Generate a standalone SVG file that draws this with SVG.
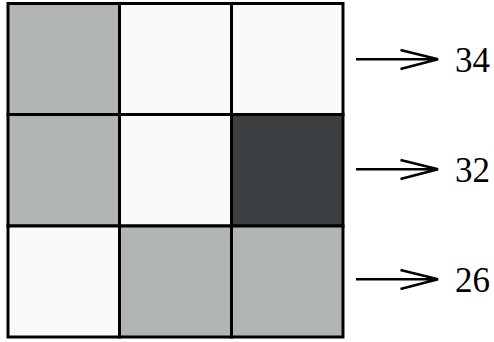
<svg xmlns="http://www.w3.org/2000/svg" width="494" height="342" viewBox="0 0 494 342">
<style>
.c{stroke:#000;stroke-width:3}
.g{fill:#b2b5b6}.w{fill:#fafafa}.d{fill:#3c3f42}
.a{stroke:#000;stroke-width:2.5;fill:none}
.t{font-size:35px;fill:#000}
</style>
<rect width="494" height="342" fill="#fff"/>
<g id="r1c1"><rect class="c g" x="8" y="3.5" width="111.5" height="111"/></g>
<g id="r1c2"><rect class="c w" x="119.5" y="3.5" width="112" height="111"/></g>
<g id="r1c3"><rect class="c w" x="231.5" y="3.5" width="111.5" height="111"/></g>
<g id="r2c1"><rect class="c g" x="8" y="114.5" width="111.5" height="111.5"/></g>
<g id="r2c2"><rect class="c w" x="119.5" y="114.5" width="112" height="111.5"/></g>
<g id="r2c3"><rect class="c d" x="231.5" y="114.5" width="111.5" height="111.5"/></g>
<g id="r3c1"><rect class="c w" x="8" y="226" width="111.5" height="111"/></g>
<g id="r3c2"><rect class="c g" x="119.5" y="226" width="112" height="111"/></g>
<g id="r3c3"><rect class="c g" x="231.5" y="226" width="111.5" height="111"/></g>
<g id="connectors">
<path class="a" d="M356 59.3H438M400.5 50L438 59.3L400.5 69"/>
<path class="a" d="M356 169.3H438M400.5 160L438 169.3L400.5 179"/>
<path class="a" d="M356 279.3H438M400.5 270L438 279.3L400.5 289"/>
</g>
<text class="t" font-family="Times New Roman, Times, Liberation Serif, Noto Serif, serif" x="455" y="71.7">34</text>
<text class="t" font-family="Times New Roman, Times, Liberation Serif, Noto Serif, serif" x="455" y="181.7">32</text>
<text class="t" font-family="Times New Roman, Times, Liberation Serif, Noto Serif, serif" x="455" y="291.7">26</text>
</svg>
